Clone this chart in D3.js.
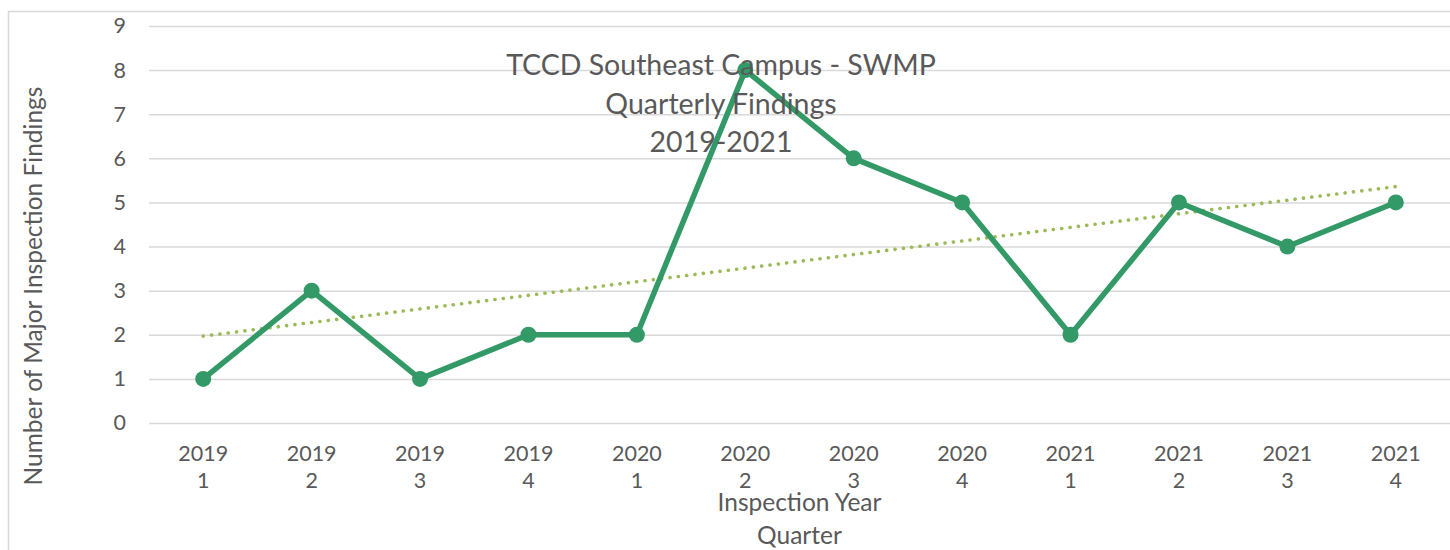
<!DOCTYPE html>
<html>
<head>
<meta charset="utf-8">
<script src="https://cdn.jsdelivr.net/npm/d3@7"></script>
<style>
  body { margin: 0; background: #fff; }
  text { font-family: Lato, "Open Sans", sans-serif; fill: #595959; }
</style>
</head>
<body>
<div id="chart"></div>
<script>
// data
var years = ["2019", "2019", "2019", "2019", "2020", "2020", "2020", "2020", "2021", "2021", "2021", "2021"];
var quarters = ["1", "2", "3", "4", "1", "2", "3", "4", "1", "2", "3", "4"];
var findings = [1, 3, 1, 2, 2, 8, 6, 5, 2, 5, 4, 5];
var trendEnds = [1.97, 5.36]; // linear trendline, first and last quarter
var yTicks = [0, 1, 2, 3, 4, 5, 6, 7, 8, 9];
var titleLines = ["TCCD Southeast Campus - SWMP", "Quarterly Findings", "2019-2021"];
var xTitleLines = ["Inspection Year", "Quarter"];

var svgWidth = 1450;
var svgHeight = 550;

var margin = { top: 26, right: 0, bottom: 127, left: 149 };
var width = svgWidth - margin.left - margin.right;
var height = svgHeight - margin.top - margin.bottom;

var svg = d3.select("#chart")
    .append("svg")
    .attr("width", svgWidth)
    .attr("height", svgHeight);

// chart frame
svg.append("rect")
    .attr("x", 8.5)
    .attr("y", 11.5)
    .attr("width", svgWidth)
    .attr("height", svgHeight)
    .attr("fill", "none")
    .attr("stroke", "#d9d9d9")
    .attr("stroke-width", 1.5);

var chartGroup = svg.append("g")
    .attr("transform", `translate(${margin.left}, ${margin.top})`);

var keys = d3.range(findings.length);

var xScale = d3.scaleBand()
    .domain(keys)
    .range([0, width]);

var yScale = d3.scaleLinear()
    .domain([0, 9])
    .range([height, 0]);

var cx = i => xScale(i) + xScale.bandwidth() / 2;

// gridlines + y labels
var leftAxis = d3.axisLeft(yScale)
    .tickValues(yTicks)
    .tickSize(-width)
    .tickPadding(23);

var yAxisG = chartGroup.append("g").call(leftAxis);
yAxisG.select(".domain").remove();
yAxisG.selectAll(".tick line")
    .attr("stroke", "#d9d9d9")
    .attr("stroke-width", 1.5);
yAxisG.selectAll(".tick text")
    .style("font-size", "21.5px")
    .style("font-family", "Lato, sans-serif")
    .attr("fill", "#595959");

// x labels (two lines)
var bottomAxis = d3.axisBottom(xScale)
    .tickSize(0)
    .tickFormat("");

var xAxisG = chartGroup.append("g")
    .attr("transform", `translate(0, ${height})`)
    .call(bottomAxis);
xAxisG.select(".domain").remove();
xAxisG.selectAll(".tick").each(function(d) {
    var t = d3.select(this).append("text")
        .attr("text-anchor", "middle")
        .style("font-size", "21.5px")
        .style("font-family", "Lato, sans-serif")
        .attr("fill", "#595959");
    t.append("tspan").attr("x", 0).attr("y", 38).text(years[d]);
    t.append("tspan").attr("x", 0).attr("y", 65).text(quarters[d]);
});

// title
var title = svg.append("text")
    .attr("text-anchor", "middle")
    .style("font-size", "28.5px");
titleLines.forEach((s, i) => {
    title.append("tspan")
        .attr("x", 721)
        .attr("y", 75 + i * 38.5)
        .text(s);
});

// trendline
var trendLine = d3.line()
    .x(d => cx(d.i))
    .y(d => yScale(d.v));

chartGroup.append("path")
    .datum([{ i: 0, v: trendEnds[0] }, { i: keys.length - 1, v: trendEnds[1] }])
    .attr("d", trendLine)
    .attr("fill", "none")
    .attr("stroke", "#9bbb59")
    .attr("stroke-width", 3.6)
    .attr("stroke-linecap", "round")
    .attr("stroke-dasharray", "0.1 8.3");

// data line
var valueLine = d3.line()
    .x((d, i) => cx(i))
    .y(d => yScale(d));

chartGroup.append("path")
    .datum(findings)
    .attr("d", valueLine)
    .attr("fill", "none")
    .attr("stroke", "#339966")
    .attr("stroke-width", 5.5)
    .attr("stroke-linejoin", "round");

chartGroup.selectAll("circle")
    .data(findings)
    .enter()
    .append("circle")
    .attr("cx", (d, i) => cx(i))
    .attr("cy", d => yScale(d))
    .attr("r", 8)
    .attr("fill", "#339966");

// axis titles
var xTitle = svg.append("text")
    .attr("text-anchor", "middle")
    .style("font-size", "24.5px");
xTitleLines.forEach((s, i) => {
    xTitle.append("tspan")
        .attr("x", margin.left + width / 2)
        .attr("y", 511 + i * 33)
        .text(s);
});

svg.append("text")
    .attr("transform", `translate(42, 286) rotate(-90)`)
    .attr("text-anchor", "middle")
    .style("font-size", "24.5px")
    .text("Number of Major Inspection Findings");
</script>
</body>
</html>
